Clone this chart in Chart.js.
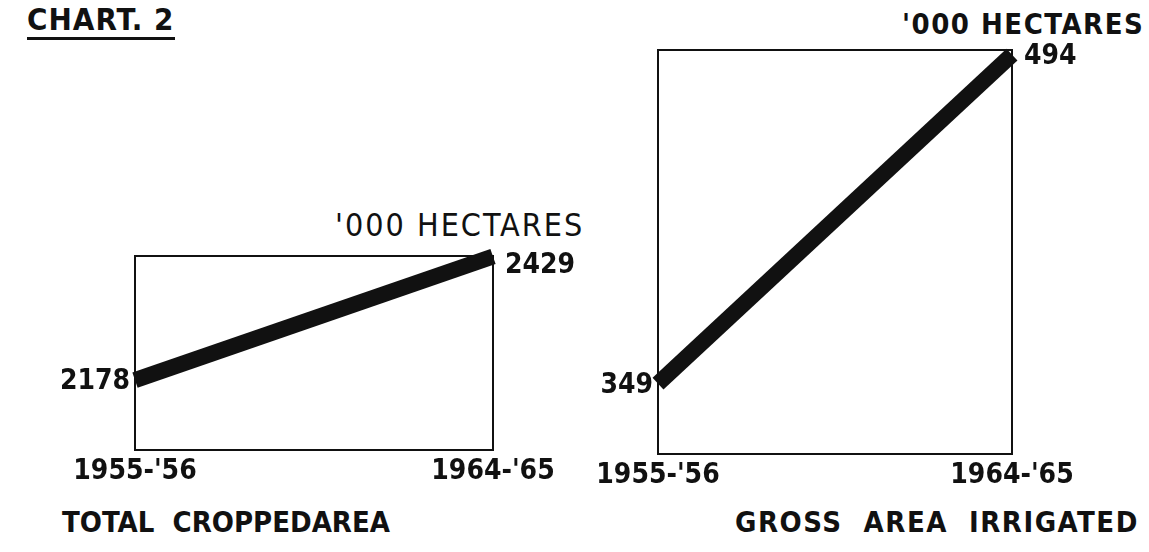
<!DOCTYPE html>
<html>
<head>
<meta charset="utf-8">
<script src="https://cdn.jsdelivr.net/npm/chart.js@4/dist/chart.umd.min.js"></script>
<style>
  html, body { margin: 0; padding: 0; background: #fff; }
  body { width: 1149px; height: 552px; position: relative; overflow: hidden;
         font-family: "DejaVu Sans Condensed", "DejaVu Sans", sans-serif; font-weight: bold; color: #111; }
  canvas { position: absolute; left: 0; top: 0; }
  .txt { position: absolute; font-size: 29px; white-space: pre; line-height: 1; }
  #titulo { left: 27px; top: 4px; font-size: 31px; border-bottom: 3px solid #111; padding-bottom: 2px; letter-spacing: 1px; }
</style>
</head>
<body>
<div class="txt" id="titulo">CHART. 2</div>
<div class="txt" style="left:335px; top:209px; font-size:32px; font-weight:normal; letter-spacing:2px;">'000 HECTARES</div>
<div class="txt" style="left:902px; top:10px; letter-spacing:1.5px;">'000 HECTARES</div>
<div class="txt" style="left:62px; top:508px;">TOTAL  CROPPEDAREA</div>
<div class="txt" style="left:735px; top:508px; letter-spacing:1.5px;">GROSS  AREA  IRRIGATED</div>
<canvas id="graficoCultivada" width="1149" height="552"></canvas>
<canvas id="graficoIrrigada" width="1149" height="552"></canvas>
<script>
const periodos = ["1955-'56", "1964-'65"];
const areaCultivada = [2178, 2429];
const areaIrrigada = [349, 494];
const faixaCultivada = [2036, 2430];
const faixaIrrigada = [318, 496];

const corTinta = '#111';

// moldura em volta da area do grafico
const moldura = {
    id: 'moldura',
    beforeDatasetsDraw(chart) {
        const { ctx, chartArea } = chart;
        ctx.save();
        ctx.strokeStyle = corTinta;
        ctx.lineWidth = 2;
        ctx.strokeRect(chartArea.left, chartArea.top, chartArea.right - chartArea.left, chartArea.bottom - chartArea.top);
        ctx.restore();
    }
};

// rotulos dos valores nas pontas da linha
const rotulos = {
    id: 'rotulos',
    afterDatasetsDraw(chart, args, opts) {
        const { ctx } = chart;
        const meta = chart.getDatasetMeta(0);
        const valores = chart.data.datasets[0].data;
        ctx.save();
        ctx.fillStyle = corTinta;
        ctx.font = 'bold 28px "DejaVu Sans Condensed", "DejaVu Sans", sans-serif';
        ctx.textBaseline = 'middle';
        meta.data.forEach((ponto, i) => {
            const primeiro = i === 0;
            ctx.textAlign = primeiro ? 'right' : 'left';
            const dx = primeiro ? -5 : 12;
            const dy = primeiro ? 2 : (opts.dyFim || 0);
            ctx.fillText(String(valores[i]), ponto.x + dx, ponto.y + dy);
        });
        ctx.restore();
    }
};

function criarGrafico(id, valores, faixa, padding, dyFim) {
    const ctx = document.getElementById(id).getContext('2d');
    return new Chart(ctx, {
        type: 'line',
        data: {
            labels: periodos,
            datasets: [{
                data: valores,
                borderColor: corTinta,
                backgroundColor: corTinta,
                borderWidth: 16,
                borderCapStyle: 'butt',
                pointRadius: 0,
                tension: 0,
                clip: false
            }]
        },
        options: {
            responsive: false,
            animation: false,
            events: [],
            layout: { padding: padding },
            plugins: {
                legend: { display: false },
                tooltip: { enabled: false },
                rotulos: { dyFim: dyFim }
            },
            scales: {
                x: {
                    type: 'category',
                    offset: false,
                    grid: { display: false, drawTicks: false },
                    border: { display: false },
                    ticks: {
                        color: corTinta,
                        padding: 5,
                        maxRotation: 0,
                        autoSkip: false,
                        font: { family: '"DejaVu Sans Condensed", "DejaVu Sans", sans-serif', size: 28, weight: 'bold' }
                    },
                    afterFit(scale) { scale.height = 40; }
                },
                y: {
                    display: false,
                    min: faixa[0],
                    max: faixa[1]
                }
            }
        },
        plugins: [moldura, rotulos]
    });
}

criarGrafico('graficoCultivada', areaCultivada, faixaCultivada,
    { left: 135, right: 1149 - 493, top: 256, bottom: 552 - 450 - 40 }, 9);
criarGrafico('graficoIrrigada', areaIrrigada, faixaIrrigada,
    { left: 658, right: 1149 - 1012, top: 50, bottom: 552 - 454 - 40 }, 2);
</script>
</body>
</html>
